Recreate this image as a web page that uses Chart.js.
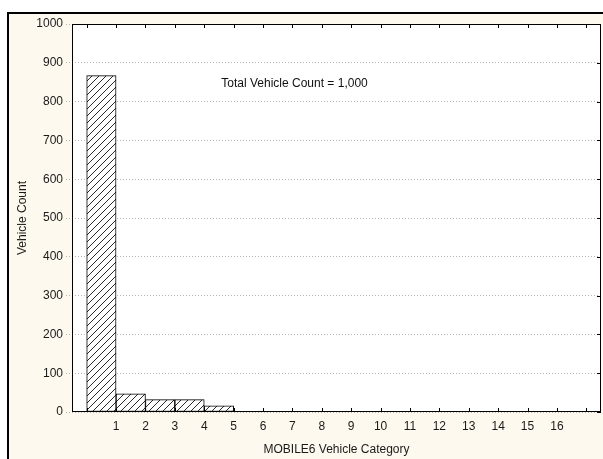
<!DOCTYPE html>
<html>
<head>
<meta charset="utf-8">
<script src="https://cdn.jsdelivr.net/npm/chart.js@4/dist/chart.umd.min.js"></script>
<style>
  html, body { margin: 0; padding: 0; background: #ffffff; }
  #wrap { position: relative; width: 603px; height: 459px; }
  canvas { display: block; }
</style>
</head>
<body>
<div id="wrap"><canvas id="c" width="603" height="459"></canvas></div>
<script>
// MOBILE6 vehicle categories and counts per category
const categories = [1, 2, 3, 4, 5, 6, 7, 8, 9, 10, 11, 12, 13, 14, 15, 16];
const vehicleCounts = [867, 47, 32, 32, 16, 0, 0, 0, 0, 0, 0, 0, 0, 0, 0, 0];
const yTicks = [0, 100, 200, 300, 400, 500, 600, 700, 800, 900, 1000];
const noteText = 'Total Vehicle Count = 1,000';

const FONT = "'Liberation Sans', Arial, sans-serif";
const FSIZE = 12;

// diagonal hatch fill for the bars
function makeHatch() {
  const s = 7;
  const p = document.createElement('canvas');
  p.width = s; p.height = s;
  const g = p.getContext('2d');
  g.fillStyle = '#ffffff';
  g.fillRect(0, 0, s, s);
  g.strokeStyle = '#2a2a2a';
  g.lineWidth = 1;
  g.beginPath();
  g.moveTo(0, s); g.lineTo(s, 0);
  g.moveTo(-1, 1); g.lineTo(1, -1);
  g.moveTo(s - 1, s + 1); g.lineTo(s + 1, s - 1);
  g.stroke();
  return document.getElementById('c').getContext('2d').createPattern(p, 'repeat');
}

// each bar fills the bin [category-1, category], labelled at its right edge
const barData = categories.map((c, i) => ({ x: c - 0.5, y: vehicleCounts[i] }));

const framePlugin = {
  id: 'frame',
  beforeDraw(chart) {
    const ctx = chart.ctx;
    ctx.save();
    ctx.fillStyle = '#ffffff';
    ctx.fillRect(0, 0, chart.width, chart.height);
    ctx.fillStyle = '#fdf9ee';
    ctx.fillRect(8, 13, chart.width - 8, chart.height - 13);
    ctx.fillStyle = '#000000';
    ctx.fillRect(7, 12, 2, chart.height - 12);
    ctx.fillRect(7, 12, chart.width - 7, 2);
    const a = chart.chartArea;
    ctx.fillStyle = '#ffffff';
    ctx.fillRect(a.left, a.top, a.right - a.left, a.bottom - a.top);
    ctx.restore();
  },
  afterDraw(chart) {
    const ctx = chart.ctx;
    const a = chart.chartArea;
    const xs = chart.scales.x, ys = chart.scales.y;
    ctx.save();
    ctx.strokeStyle = '#000000';
    ctx.lineWidth = 1;
    ctx.strokeRect(Math.round(a.left) + 0.5, Math.round(a.top) + 0.5,
                   Math.round(a.right - a.left) - 1, Math.round(a.bottom - a.top) - 1);
    ctx.beginPath();
    for (let v = 0; v <= 17; v++) {
      const px = Math.round(xs.getPixelForValue(v)) + 0.5;
      ctx.moveTo(px, a.top); ctx.lineTo(px, a.top + 4);
      ctx.moveTo(px, a.bottom); ctx.lineTo(px, a.bottom - 4);
    }
    yTicks.forEach(v => {
      const py = Math.round(ys.getPixelForValue(v)) + 0.5;
      ctx.moveTo(a.right, py); ctx.lineTo(a.right - 4, py);
    });
    ctx.stroke();
    ctx.fillStyle = '#111111';
    ctx.font = FSIZE + 'px ' + FONT;
    ctx.textAlign = 'left';
    ctx.textBaseline = 'middle';
    ctx.fillText(noteText, xs.getPixelForValue(4.58), ys.getPixelForValue(847));
    ctx.restore();
  }
};

new Chart(document.getElementById('c'), {
  type: 'bar',
  data: {
    datasets: [{
      data: barData,
      backgroundColor: makeHatch(),
      borderColor: '#000000',
      borderWidth: 1,
      borderSkipped: false,
      barPercentage: 1,
      categoryPercentage: 1
    }]
  },
  options: {
    responsive: false,
    animation: false,
    devicePixelRatio: 1,
    layout: { padding: { top: 24, right: 2, left: 0, bottom: 0 } },
    plugins: { legend: { display: false }, tooltip: { enabled: false } },
    scales: {
      x: {
        type: 'linear',
        min: -0.5,
        max: 17.5,
        offset: false,
        afterFit(scale) { scale.height = 47; },
        afterBuildTicks(scale) {
          const t = [];
          for (let v = 0; v <= 17; v++) t.push({ value: v });
          scale.ticks = t;
        },
        ticks: {
          autoSkip: false,
          maxRotation: 0,
          padding: 7,
          color: '#1a1a1a',
          font: { family: FONT, size: FSIZE },
          callback: v => (categories.includes(v) ? String(v) : '')
        },
        grid: { display: false, drawTicks: false },
        border: { display: false },
        title: {
          display: true,
          text: 'MOBILE6 Vehicle Category',
          color: '#1a1a1a',
          font: { family: FONT, size: FSIZE },
          padding: { top: 0, bottom: 2 }
        }
      },
      y: {
        min: 0,
        max: 1000,
        afterFit(scale) { scale.width = 72; },
        afterBuildTicks(scale) { scale.ticks = yTicks.map(v => ({ value: v })); },
        ticks: {
          padding: 3,
          color: '#1a1a1a',
          font: { family: FONT, size: FSIZE },
          callback: v => String(v)
        },
        grid: {
          color: '#b4b4b4',
          lineWidth: 1,
          tickBorderDash: [1, 2],
          tickColor: '#b4b4b4',
          tickLength: 6,
          drawTicks: true
        },
        border: { display: false, dash: [1, 2] },
        title: {
          display: true,
          text: 'Vehicle Count',
          color: '#1a1a1a',
          font: { family: FONT, size: FSIZE },
          padding: { top: 15, bottom: 0 }
        }
      }
    }
  },
  plugins: [framePlugin]
});
</script>
</body>
</html>
